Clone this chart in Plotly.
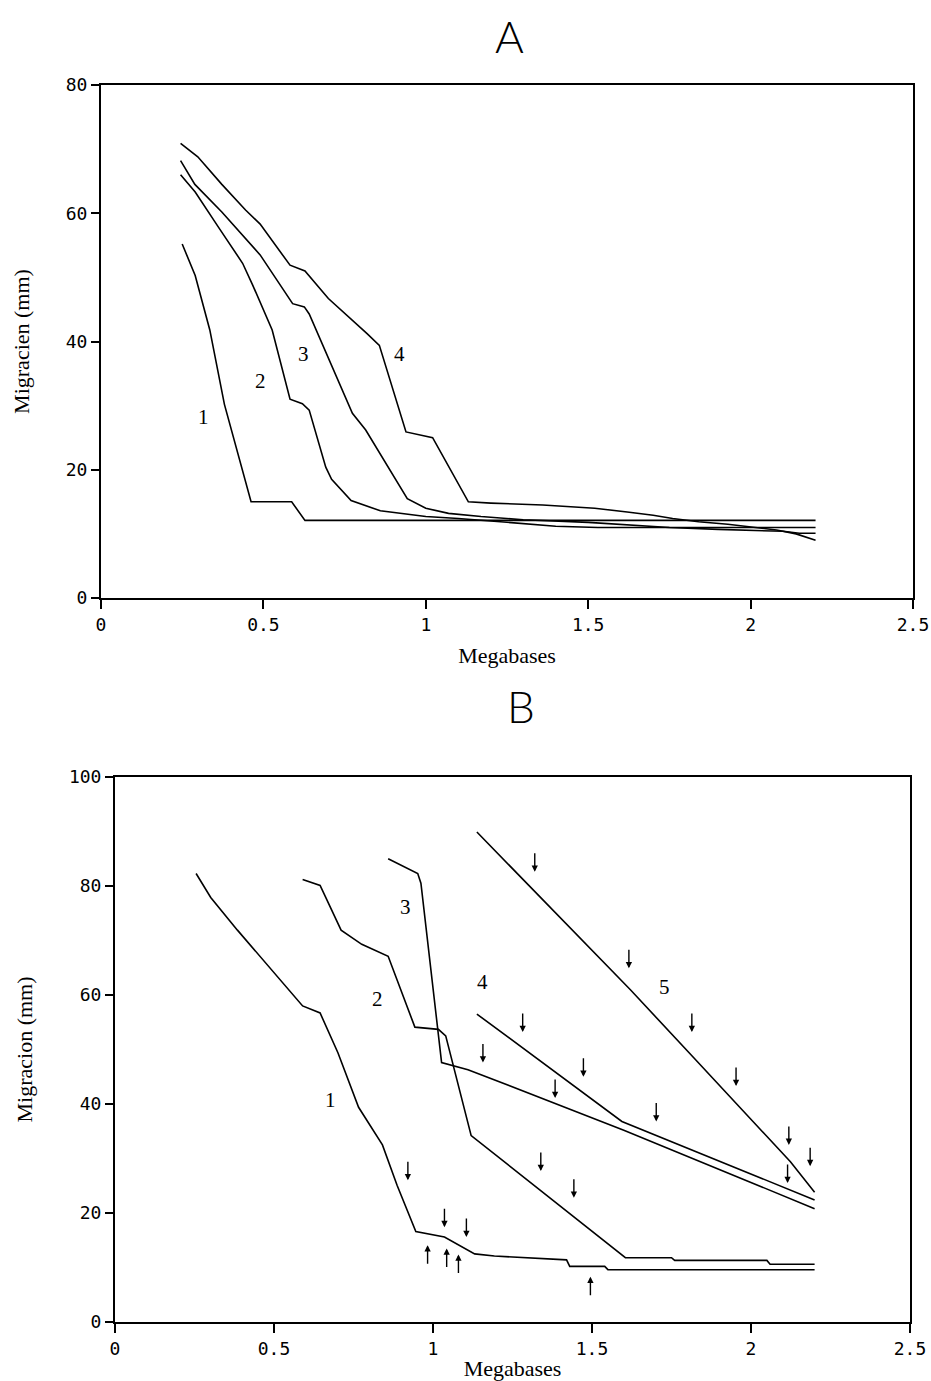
import plotly.graph_objects as go

# ---------------- Panel A data (Megabases vs Migracion mm) ----------------
A1_x = [0.25, 0.29, 0.335, 0.38, 0.462, 0.587, 0.628, 2.2]
A1_y = [55.2, 50.3, 41.8, 30.2, 15.0, 15.0, 12.1, 12.1]

A2_x = [0.245, 0.29, 0.362, 0.436, 0.467, 0.527, 0.582, 0.62, 0.641, 0.692, 0.71, 0.77, 0.86, 1.0, 1.1, 1.25, 1.4, 1.53, 2.2]
A2_y = [66.0, 63.3, 57.8, 52.2, 48.8, 41.8, 31.0, 30.3, 29.3, 20.4, 18.5, 15.2, 13.6, 12.7, 12.4, 11.8, 11.2, 11.0, 11.0]

A3_x = [0.245, 0.289, 0.372, 0.436, 0.49, 0.59, 0.626, 0.641, 0.702, 0.774, 0.815, 0.866, 0.943, 1.0, 1.07, 1.17, 1.3, 1.5, 1.75, 1.9, 2.1, 2.15, 2.2]
A3_y = [68.2, 64.5, 60.2, 56.5, 53.5, 45.9, 45.4, 44.3, 37.1, 28.8, 26.2, 22.0, 15.5, 14.0, 13.2, 12.7, 12.2, 11.8, 11.0, 10.7, 10.4, 10.1, 10.1]

A4_x = [0.245, 0.298, 0.372, 0.445, 0.49, 0.582, 0.628, 0.70, 0.82, 0.857, 0.939, 1.021, 1.131, 1.2, 1.36, 1.52, 1.62, 1.70, 1.76, 1.84, 1.93, 2.0, 2.08, 2.14, 2.18, 2.2]
A4_y = [70.9, 68.8, 64.5, 60.5, 58.3, 51.9, 51.0, 46.7, 41.2, 39.4, 25.9, 25.0, 15.0, 14.8, 14.5, 14.0, 13.4, 12.9, 12.4, 11.9, 11.5, 11.1, 10.6, 10.0, 9.3, 9.0]

A_label_text = ["1", "2", "3", "4"]
A_label_x = [0.317, 0.49, 0.622, 0.92]
A_label_y = [28.3, 33.8, 38.1, 38.1]

# ---------------- Panel B data ----------------
B1_x = [0.255, 0.301, 0.385, 0.59, 0.645, 0.701, 0.766, 0.841, 0.887, 0.946, 1.036, 1.131, 1.193, 1.311, 1.42, 1.43, 1.54, 1.55, 2.2]
B1_y = [82.3, 77.9, 71.9, 58.0, 56.7, 49.4, 39.4, 32.5, 25.1, 16.6, 15.6, 12.5, 12.1, 11.7, 11.4, 10.2, 10.2, 9.6, 9.6]

B2_x = [0.59, 0.645, 0.711, 0.776, 0.859, 0.943, 1.017, 1.04, 1.12, 1.605, 1.75, 1.76, 2.05, 2.06, 2.2]
B2_y = [81.2, 80.1, 71.9, 69.3, 67.1, 54.1, 53.7, 52.5, 34.2, 11.8, 11.8, 11.3, 11.3, 10.6, 10.6]

B3_x = [0.859, 0.952, 0.962, 1.027, 1.11, 1.6, 2.2]
B3_y = [85.0, 82.3, 80.5, 47.6, 46.3, 35.2, 20.8]

B4_x = [1.138, 1.464, 1.594, 2.2]
B4_y = [56.5, 42.4, 36.8, 22.4]

B5_x = [1.138, 1.32, 1.62, 1.82, 2.124, 2.2]
B5_y = [89.9, 79.0, 61.0, 48.5, 29.4, 23.8]

B_label_text = ["1", "2", "3", "4", "5"]
B_label_x = [0.679, 0.826, 0.915, 1.157, 1.728]
B_label_y = [40.7, 59.3, 76.2, 62.3, 61.5]

# arrow markers (tip positions)
B_down_x = [1.32, 1.616, 1.814, 1.953, 2.119, 2.186, 1.282, 1.473, 1.702, 2.115, 1.157, 1.384, 1.339, 1.443, 0.921, 1.036, 1.105]
B_down_y = [82.6, 64.9, 53.2, 43.3, 32.5, 28.6, 53.2, 45.0, 36.8, 25.5, 47.6, 41.1, 27.7, 22.8, 26.0, 17.4, 15.6]
B_up_x = [0.983, 1.043, 1.08, 1.495]
B_up_y = [14.1, 13.5, 12.4, 8.3]

x_tickvals = [0, 0.5, 1, 1.5, 2, 2.5]
x_ticktext = ["0", "0.5", "1", "1.5", "2", "2.5"]
A_yticks = [0, 20, 40, 60, 80]
B_yticks = [0, 20, 40, 60, 80, 100]

W, H = 931, 1381
line_style = dict(color="black", width=1.6)

fig = go.Figure()
for xs, ys in [(A1_x, A1_y), (A2_x, A2_y), (A3_x, A3_y), (A4_x, A4_y)]:
    fig.add_trace(go.Scatter(x=xs, y=ys, mode="lines", line=line_style,
                             xaxis="x", yaxis="y", showlegend=False, hoverinfo="skip"))
for xs, ys in [(B1_x, B1_y), (B2_x, B2_y), (B3_x, B3_y), (B4_x, B4_y), (B5_x, B5_y)]:
    fig.add_trace(go.Scatter(x=xs, y=ys, mode="lines", line=line_style,
                             xaxis="x2", yaxis="y2", showlegend=False, hoverinfo="skip"))

tick_font = dict(family="DejaVu Sans Mono", size=18, color="black")
title_font = dict(family="Liberation Serif", size=22, color="black")

def xaxis_cfg(domain, anchor):
    return dict(domain=domain, anchor=anchor, range=[0, 2.5], tickmode="array",
                tickvals=x_tickvals, ticktext=x_ticktext, ticks="outside", ticklen=9,
                tickwidth=1.5, tickcolor="black", showline=True, linecolor="black",
                linewidth=2, mirror=True, showgrid=False, zeroline=False, automargin=False,
                tickfont=tick_font, title=dict(text="Megabases", font=title_font, standoff=14))

def yaxis_cfg(domain, anchor, rng, ticks, title):
    return dict(domain=domain, anchor=anchor, range=rng, tickmode="array",
                tickvals=ticks, ticks="outside", ticklen=8, tickwidth=1.5,
                tickcolor="black", showline=True, linecolor="black", linewidth=2,
                mirror=True, showgrid=False, zeroline=False, automargin=False, tickfont=tick_font,
                title=dict(text=title, font=title_font, standoff=30))

fig.update_layout(
    width=W, height=H, paper_bgcolor="white", plot_bgcolor="white",
    margin=dict(l=0, r=0, t=0, b=0, autoexpand=False), showlegend=False,
    xaxis=xaxis_cfg([101 / W, 913 / W], "y"),
    yaxis=yaxis_cfg([1 - 598 / H, 1 - 85 / H], "x", [0, 80], A_yticks, "Migracien (mm)"),
    xaxis2=xaxis_cfg([115 / W, 910 / W], "y2"),
    yaxis2=yaxis_cfg([1 - 1322 / H, 1 - 777 / H], "x2", [0, 100], B_yticks, "Migracion (mm)"),
)

annotations = []
panel_font = dict(family="Lato", size=44, color="black", weight=300)
annotations.append(dict(text="A", x=510 / W, y=1 - 36 / H, xref="paper", yref="paper",
                        xanchor="center", yanchor="middle", showarrow=False, font=panel_font))
annotations.append(dict(text="B", x=521 / W, y=1 - 706 / H, xref="paper", yref="paper",
                        xanchor="center", yanchor="middle", showarrow=False, font=panel_font))

lab_font = dict(family="Liberation Serif", size=21, color="black")
for t, x, y in zip(A_label_text, A_label_x, A_label_y):
    annotations.append(dict(text=t, x=x, y=y, xref="x", yref="y", showarrow=False, font=lab_font))
for t, x, y in zip(B_label_text, B_label_x, B_label_y):
    annotations.append(dict(text=t, x=x, y=y, xref="x2", yref="y2", showarrow=False, font=lab_font))

for x, y in zip(B_down_x, B_down_y):
    annotations.append(dict(x=x, y=y, xref="x2", yref="y2", ax=0, ay=-20, axref="pixel", ayref="pixel",
                            text="", showarrow=True, arrowhead=2, arrowsize=0.9, arrowwidth=1.4,
                            arrowcolor="black"))
for x, y in zip(B_up_x, B_up_y):
    annotations.append(dict(x=x, y=y, xref="x2", yref="y2", ax=0, ay=20, axref="pixel", ayref="pixel",
                            text="", showarrow=True, arrowhead=2, arrowsize=0.9, arrowwidth=1.4,
                            arrowcolor="black"))

fig.update_layout(annotations=annotations)
fig.write_html("out.html", config={"displayModeBar": False},
               post_script="document.body.style.margin='0';document.body.style.overflow='hidden';")
